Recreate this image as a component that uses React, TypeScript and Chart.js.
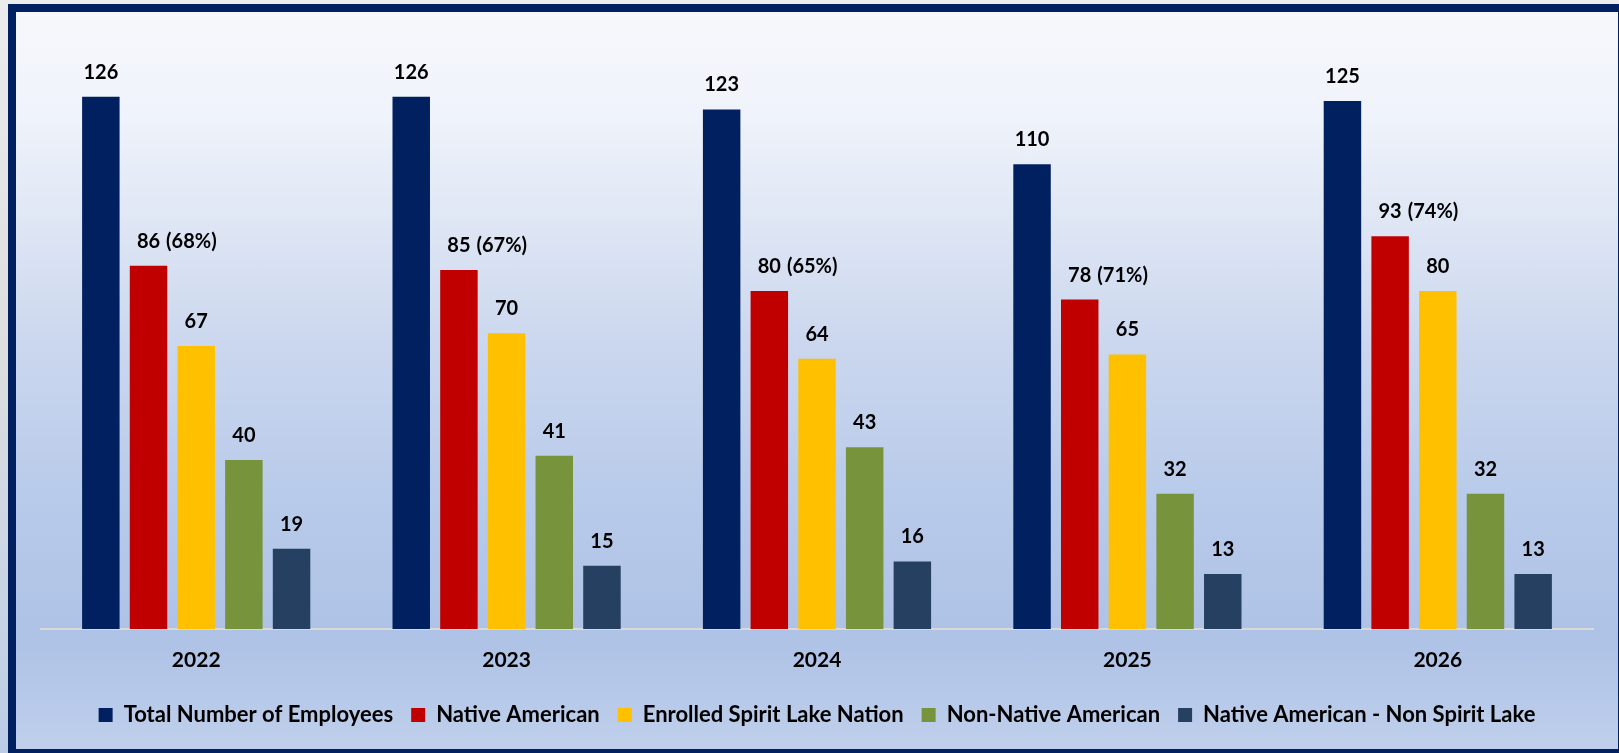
import React, { useEffect, useRef } from "react";
import { Chart, registerables } from "chart.js";

Chart.register(...registerables);

const years = ["2022", "2023", "2024", "2025", "2026"];
const totalEmployees = [126, 126, 123, 110, 125];
const nativeAmerican = [86, 85, 80, 78, 93];
const enrolledSpiritLake = [67, 70, 64, 65, 80];
const nonNativeAmerican = [40, 41, 43, 32, 32];
const nativeNonSpiritLake = [19, 15, 16, 13, 13];
const nativeShare = ["(68%)", "(67%)", "(65%)", "(71%)", "(74%)"];
const seriesNames = [
  "Total Number of Employees",
  "Native American",
  "Enrolled Spirit Lake Nation",
  "Non-Native American",
  "Native American - Non Spirit Lake",
];
const seriesColors = ["#002060", "#C00000", "#FFC000", "#77933C", "#254061"];

const FONT = "Lato, 'DejaVu Sans', sans-serif";

const labelPlugin = {
  id: "barValueLabels",
  afterDatasetsDraw(chart: any) {
    const ctx = chart.ctx;
    ctx.save();
    ctx.font = `bold 20px ${FONT}`;
    ctx.fillStyle = "#000000";
    ctx.textBaseline = "alphabetic";
    chart.data.datasets.forEach((ds: any, di: number) => {
      const meta = chart.getDatasetMeta(di);
      meta.data.forEach((bar: any, i: number) => {
        const txt = String(ds.data[i]);
        const y = bar.y - 18;
        ctx.textAlign = "center";
        ctx.fillText(txt, bar.x, y);
        if (di === 1) {
          const w = ctx.measureText(txt).width;
          ctx.textAlign = "left";
          ctx.fillText(nativeShare[i], bar.x + w / 2 + 6, y);
        }
      });
    });
    ctx.restore();
  },
};

export default function App() {
  const canvasRef = useRef<HTMLCanvasElement | null>(null);

  useEffect(() => {
    document.body.style.margin = "0";
    let chart: Chart | null = null;
    let cancelled = false;
    const build = () => {
      if (cancelled || !canvasRef.current) return;
      const seriesData = [
        totalEmployees,
        nativeAmerican,
        enrolledSpiritLake,
        nonNativeAmerican,
        nativeNonSpiritLake,
      ];
      chart = new Chart(canvasRef.current, {
        type: "bar",
        data: {
          labels: years,
          datasets: seriesData.map((d, i) => ({
            label: seriesNames[i],
            data: d,
            backgroundColor: seriesColors[i],
            borderWidth: 0,
            categoryPercentage: 0.768,
            barPercentage: 0.786,
          })),
        },
        options: {
          responsive: false,
          animation: false,
          layout: { padding: { left: 25, right: 25, top: 25.6, bottom: 13 } },
          plugins: {
            legend: {
              position: "bottom",
              labels: {
                boxWidth: 14,
                boxHeight: 14,
                padding: 18,
                color: "#000000",
                font: { family: FONT, size: 22, weight: "bold" },
              },
            },
            tooltip: { enabled: false },
          },
          scales: {
            x: {
              grid: { display: false, drawTicks: false },
              border: { display: true, color: "#d9d9d9", width: 2 },
              ticks: {
                padding: 19,
                color: "#000000",
                font: { family: FONT, size: 21, weight: "bold" },
              },
              afterFit: (scale: any) => {
                scale.height = 57;
              },
            },
            y: { display: false, min: 0, max: 140 },
          },
        },
        plugins: [labelPlugin],
      } as any);
    };
    const fontsApi: any = (document as any).fonts;
    if (fontsApi && fontsApi.load) {
      Promise.all([
        fontsApi.load(`bold 20px Lato`),
        fontsApi.load(`bold 22px Lato`),
      ])
        .catch(() => null)
        .then(build);
    } else {
      build();
    }
    return () => {
      cancelled = true;
      if (chart) chart.destroy();
    };
  }, []);

  return (
    <div>
      <div
        style={{
          position: "fixed",
          left: 0,
          top: 0,
          right: 0,
          bottom: 0,
          background:
            "linear-gradient(to bottom, #ececec 0%, #dedede 45%, #c8d4e4 80%, #bccce6 100%)",
        }}
      />
      <div
        style={{
          position: "absolute",
          left: 8,
          top: 4,
          width: 1611,
          height: 749,
          boxSizing: "border-box",
          borderLeft: "8px solid #002060",
          borderTop: "8px solid #002060",
          borderRight: "1px solid #002060",
          borderBottom: "4px solid #002060",
          background:
            "linear-gradient(to bottom, #f7f8fc 0%, #eef2fa 15%, #dde5f4 30%, #cbd7ee 45%, #b9cbea 65%, #aec2e6 85%, #b7c9e9 93%, #c0d0ec 100%)",
        }}
      >
        <canvas
          ref={canvasRef}
          width={1602}
          height={737}
          style={{ display: "block", width: 1602, height: 737 }}
        />
      </div>
    </div>
  );
}
